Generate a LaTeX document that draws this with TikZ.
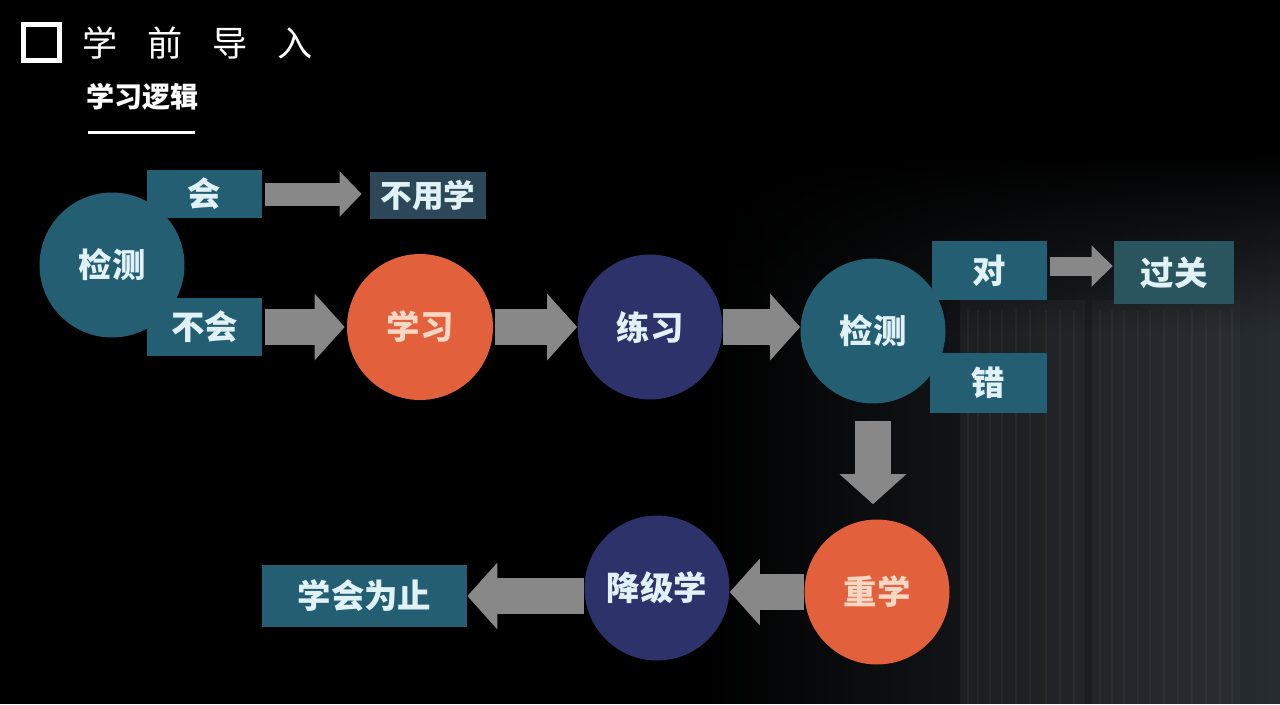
\documentclass[tikz,border=0pt]{standalone}
\usepackage{fontspec}
\setmainfont{Noto Sans CJK SC}
\usetikzlibrary{arrows.meta,fadings,calc}
\definecolor{tealc}{RGB}{36,94,114}
\definecolor{slatec}{RGB}{44,72,88}
\definecolor{passc}{RGB}{42,84,94}
\definecolor{orangec}{RGB}{226,97,60}
\definecolor{indigoc}{RGB}{45,50,106}
\definecolor{txtc}{RGB}{225,242,246}
\definecolor{otxtc}{RGB}{248,216,196}
\definecolor{agray}{RGB}{136,136,136}
\definecolor{bgr}{RGB}{40,45,50}
\definecolor{bld}{RGB}{52,56,60}
\begin{document}
\begin{tikzpicture}[x=0.02cm,y=-0.02cm,
  lbl/.style={font=\bfseries\fontsize{19}{19}\selectfont},
  circ/.style={circle,minimum size=2.9cm,inner sep=0pt,text=txtc,lbl},
  boxn/.style={rectangle,inner sep=0pt,text=txtc,fill=tealc,lbl},
  blk/.style={draw=agray,line cap=butt},
  bigarrow/.style={blk,line width=0.72cm,-{Triangle[width=1.3cm,length=0.6cm]}},
  smallarrow/.style={blk,line width=0.46cm,-{Triangle[width=0.88cm,length=0.44cm]}},
  tinyarrow/.style={blk,line width=0.38cm,-{Triangle[width=0.8cm,length=0.42cm]}}
]
\fill[black] (0,0) rectangle (1280,704);
\useasboundingbox (0,0) rectangle (1280,704);
% background glow on the right
\fill[bgr,path fading=west] (700,150) rectangle (1280,704);
\fill[bld,opacity=0.3] (960,300) rectangle (1085,704);
\fill[bld,opacity=0.3] (1092,300) rectangle (1240,704);
\foreach \xx in {968,978,990,1002,1016,1030,1046,1060,1074,1100,1112,1124,1138,1150,1164,1178,1192,1206,1220,1232}
  \draw[bld!70!gray,opacity=0.2,line width=0.6pt] (\xx,310) -- (\xx,704);
\fill[black,path fading=south] (700,150) rectangle (1280,330);

% title
\node[draw=white,line width=0.1cm,minimum size=0.72cm,inner sep=0pt] (sq) at (41.5,42.5) {};
\node[anchor=west,inner sep=0pt,text=white,font=\fontsize{20}{20}\selectfont] (title) at (82,43)
  {学\hspace{0.6cm}前\hspace{0.6cm}导\hspace{0.6cm}入};
\node[anchor=west,inner sep=0pt,text=white,font=\bfseries\fontsize{16}{16}\selectfont] (sub) at (86,97) {学习逻辑};
\coordinate (ul1) at (88,132);
\coordinate (ul2) at (195,132);
\draw[white,line width=0.06cm] (ul1) -- (ul2);

% nodes
\node[boxn,minimum width=2.3cm,minimum height=0.96cm] (hui) at (204.5,194) {会};
\node[boxn,minimum width=2.3cm,minimum height=1.16cm] (buhui) at (204.5,327) {不会};
\node[circ,fill=tealc] (jc1) at (112,265) {检测};
\node[boxn,fill=slatec,minimum width=2.32cm,minimum height=0.94cm,font=\bfseries\fontsize{18}{18}\selectfont] (buyong) at (428,195.5) {不用学};
\node[circ,fill=orangec,text=otxtc,minimum size=2.92cm] (xuexi) at (420,327) {学习};
\node[circ,fill=indigoc] (lianxi) at (650,327) {练习};
\node[circ,fill=tealc] (jc2) at (873,331) {检测};
\node[boxn,minimum width=2.3cm,minimum height=1.18cm] (dui) at (989.5,270.5) {对};
\node[boxn,minimum width=2.34cm,minimum height=1.2cm] (cuo) at (988.5,383) {错};
\node[boxn,fill=passc,minimum width=2.4cm,minimum height=1.26cm] (guoguan) at (1174,272.5) {过关};
\node[circ,fill=orangec,text=otxtc] (chongxue) at (877,592) {重学};
\node[circ,fill=indigoc] (jiangji) at (657,588) {降级学};
\node[boxn,minimum width=4.1cm,minimum height=1.24cm] (zhi) at (364.5,596) {学会为止};

% arrows
\draw[smallarrow,shorten <=0.06cm,shorten >=0.16cm] (hui.east) -- (hui.east -| buyong.west);
\draw[bigarrow,shorten <=0.06cm,shorten >=0.04cm] (buhui.east) -- (xuexi.west);
\draw[bigarrow,shorten <=0.04cm] (xuexi.east) -- (lianxi.west);
\draw[bigarrow] (lianxi.east) -- (lianxi.east -| jc2.west);
\draw[tinyarrow,shorten <=0.06cm,shorten >=0.02cm] (dui.east |- 0,266) -- (guoguan.west |- 0,266);
\draw[bigarrow,shorten <=0.34cm,shorten >=0.3cm] (jc2.south) -- (jc2.south |- chongxue.north);
\draw[bigarrow] (chongxue.west) -- (chongxue.west -| jiangji.east);
\draw[bigarrow] (jiangji.west |- zhi.east) -- (zhi.east);
\end{tikzpicture}
\end{document}
